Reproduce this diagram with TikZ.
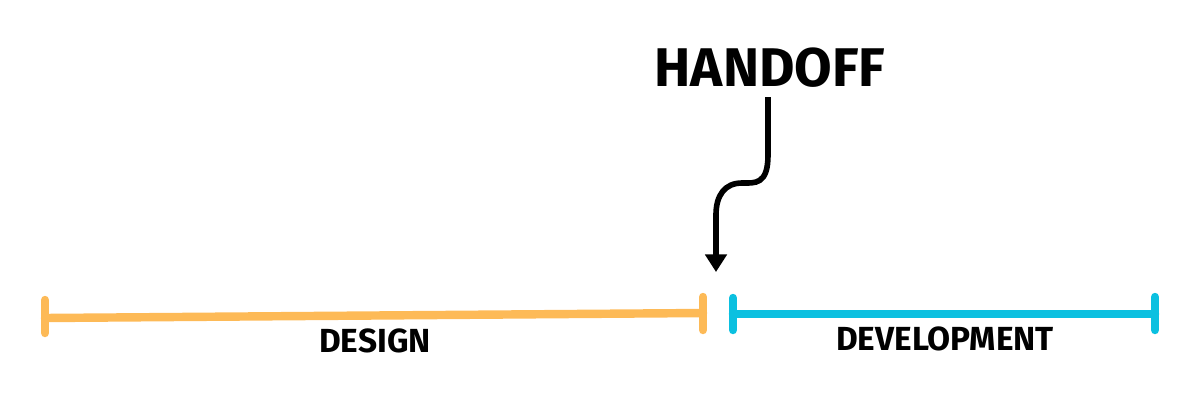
\documentclass[tikz,border=0pt]{standalone}
\usepackage{fontspec}
\setmainfont{Fira Sans}
\usepackage{tikz}
\usetikzlibrary{arrows.meta}
\definecolor{designorange}{HTML}{FDBA57}
\definecolor{devcyan}{HTML}{0BC0E0}
\begin{document}
\begin{tikzpicture}[x=1cm,y=1cm,
  phase/.style={line width=2.4pt,line cap=round},
  endbar/.style={line width=2.4pt,line cap=round},
  lbl/.style={font=\bfseries\fontsize{9.5}{11}\selectfont}]
  \useasboundingbox (0,0) rectangle (12,4);

  % phases
  \coordinate (d1) at (0.45,0.82);
  \coordinate (d2) at (7.03,0.87);
  \coordinate (v1) at (7.33,0.86);
  \coordinate (v2) at (11.55,0.86);
  \draw[phase,designorange] (d1) -- (d2);
  \draw[endbar,designorange] (0.45,1.00) -- (0.45,0.67);
  \draw[endbar,designorange] (7.03,1.03) -- (7.03,0.70);
  \draw[phase,devcyan] (v1) -- (v2);
  \draw[endbar,devcyan] (7.33,1.02) -- (7.33,0.70);
  \draw[endbar,devcyan] (11.55,1.03) -- (11.55,0.70);

  \node[lbl] (design) at (3.75,0.59) {DESIGN};
  \node[lbl] (dev) at (9.45,0.61) {DEVELOPMENT};

  % handoff
  \node[font=\bfseries\fontsize{15.5}{18}\selectfont] (handoff) at (7.70,3.32) {HANDOFF};
  \coordinate (tip) at (7.16,1.28);
  \draw[line width=1.6pt,-{Triangle[length=5pt,width=6pt]}]
    (7.68,3.03) -- (7.68,2.45) .. controls (7.68,2.15) and (7.55,2.17) .. (7.42,2.17)
    .. controls (7.25,2.17) and (7.16,2.05) .. (7.16,1.85) -- (tip);
\end{tikzpicture}
\end{document}
